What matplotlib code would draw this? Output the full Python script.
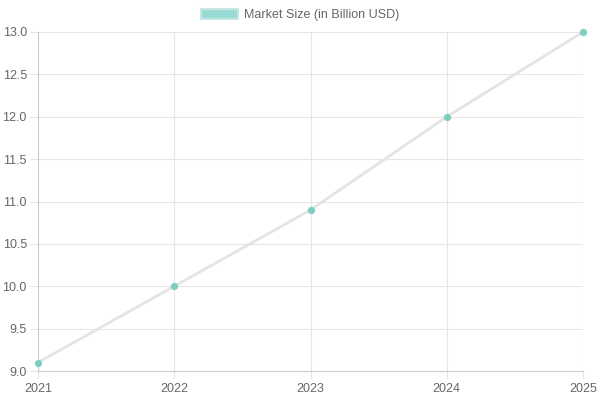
import matplotlib
matplotlib.use("Agg")
import matplotlib.pyplot as plt
from matplotlib.patches import Patch

years = ["2021", "2022", "2023", "2024", "2025"]
market_size = [9.1, 10.0, 10.9, 12.0, 13.0]
y_ticks = [9.0, 9.5, 10.0, 10.5, 11.0, 11.5, 12.0, 12.5, 13.0]

plt.rcParams['font.family'] = ['Liberation Sans', 'DejaVu Sans']

fig = plt.figure(figsize=(6, 4), dpi=100)
ax = fig.add_axes([38/600, 1-371/400, (583-38)/600, (371-32)/400])

x = list(range(len(years)))
ax.plot(x, market_size, color='#e4e4e4', linewidth=2.0, zorder=3, clip_on=False)
ax.scatter(x, market_size, color='#7fcfc0', s=18, zorder=4, edgecolors='#7fcfc0',
           clip_on=False)

ax.set_xlim(0, len(years)-1)
ax.set_ylim(9.0, 13.0)
ax.set_xticks(x)
ax.set_xticklabels(years)
ax.set_yticks(y_ticks)
ax.set_yticklabels([f"{v:.1f}" for v in y_ticks])
ax.grid(True, color='#e6e6e6', linewidth=0.8)
ax.set_axisbelow(True)
for s in ['top', 'right']:
    ax.spines[s].set_visible(False)
for s in ['left', 'bottom']:
    ax.spines[s].set_color('#cccccc')
    ax.spines[s].set_linewidth(0.8)
ax.tick_params(colors='#666666', labelsize=9, length=6, width=0.8)
ax.tick_params(axis='both', color='#e6e6e6')
for lbl in ax.get_xticklabels() + ax.get_yticklabels():
    lbl.set_color('#666666')
ax.tick_params(axis='x', pad=3)
ax.tick_params(axis='y', pad=2)

handle = Patch(facecolor='#99dbd6', edgecolor='#c8e6e2', linewidth=1.5)
fig.legend([handle], ["Market Size (in Billion USD)"], loc='center', bbox_to_anchor=(0.5, 1-15/400),
           frameon=False, fontsize=9, handlelength=3.0, handleheight=0.9,
           labelcolor='#666666', handletextpad=0.5)

fig.savefig("out.png", dpi=100)
